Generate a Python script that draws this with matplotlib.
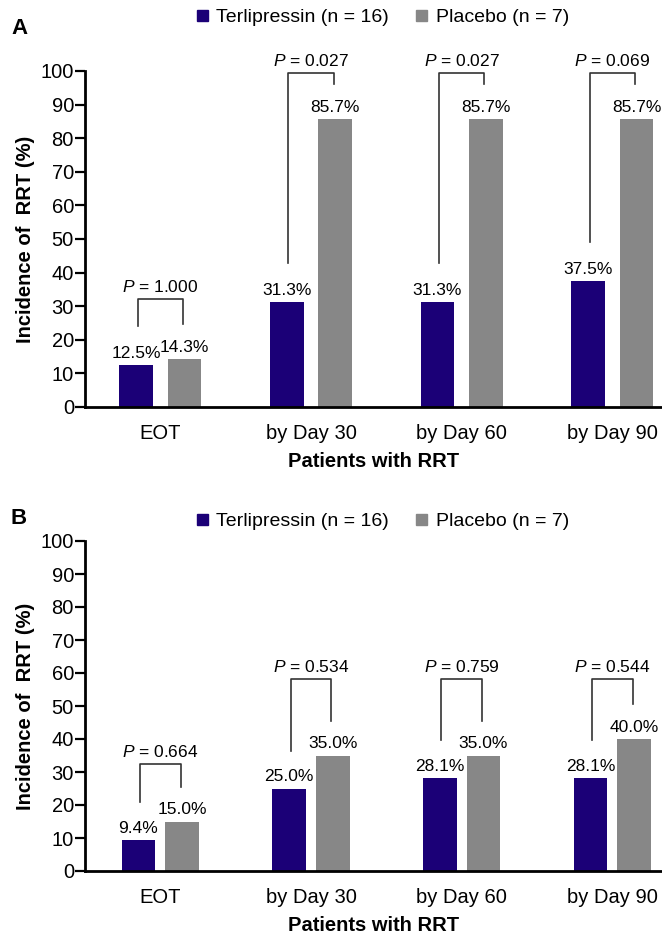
import numpy as np
import matplotlib
matplotlib.use("Agg")
import matplotlib.pyplot as plt
from matplotlib.patches import Patch

plt.rcParams["font.family"] = ["Liberation Sans", "DejaVu Sans"]
plt.rcParams["mathtext.fontset"] = "custom"
plt.rcParams["mathtext.rm"] = "Liberation Sans"
plt.rcParams["mathtext.it"] = "Liberation Sans:italic"

# Data
categories = ["EOT", "by Day 30", "by Day 60", "by Day 90"]
legend_labels = ["Terlipressin (n = 16)", "Placebo (n = 7)"]

terli_a = [12.5, 31.3, 31.3, 37.5]
placebo_a = [14.3, 85.7, 85.7, 85.7]
pvals_a = ["1.000", "0.027", "0.027", "0.069"]

terli_b = [9.4, 25.0, 28.1, 28.1]
placebo_b = [15.0, 35.0, 35.0, 40.0]
pvals_b = ["0.664", "0.534", "0.759", "0.544"]

# bracket heights (annotation layout)
bracket_top_a = [32.1, 99.4, 99.4, 99.4]
bracket_top_b = [32.4, 58.2, 58.2, 58.2]

NAVY = "#1b0077"
GREY = "#878787"
LINE = "#333333"

fig = plt.figure(figsize=(6.62, 9.35), dpi=100)


def draw_panel(ax, terli, placebo, pvals, tops, half):
    x = np.arange(len(categories))
    width = 0.224
    b1 = ax.bar(x - half, terli, width, color=NAVY)
    b2 = ax.bar(x + half, placebo, width, color=GREY)
    ax.bar_label(b1, fmt="%.1f%%", padding=3, fontsize=12.5)
    ax.bar_label(b2, fmt="%.1f%%", padding=3, fontsize=12.5)

    for i in range(len(categories)):
        xl = x[i] - half + 0.01
        xr = x[i] + half - 0.01
        top = tops[i]
        ax.plot([xl, xl, xr, xr], [terli[i] + 11.5, top, top, placebo[i] + 10.5],
                color=LINE, lw=1.2, clip_on=False)
        ax.annotate(f"$\\it{{P}}$ = {pvals[i]}", (x[i], top), xytext=(0, 3),
                    textcoords="offset points", ha="center", va="bottom",
                    fontsize=12.5)

    ax.set_xlim(-0.5, 3.33)
    ax.set_ylim(0, 100)
    ax.set_yticks(range(0, 101, 10))
    ax.set_xticks(x)
    ax.set_xticklabels(categories, fontsize=14.5)
    ax.tick_params(axis="y", labelsize=14.5, length=7, width=1.6, pad=1)
    ax.tick_params(axis="x", length=0, pad=12)
    for s in ["top", "right"]:
        ax.spines[s].set_visible(False)
    for s in ["left", "bottom"]:
        ax.spines[s].set_linewidth(2)
    ax.set_ylabel("Incidence of  RRT (%)", fontsize=14.5, fontweight="bold", labelpad=4)
    ax.set_xlabel("Patients with RRT", fontsize=14.5, fontweight="bold", labelpad=7)


ax_a = fig.add_axes([85 / 662, 1 - 407 / 935, 577 / 662, 336 / 935])
ax_b = fig.add_axes([85 / 662, 1 - 871 / 935, 577 / 662, 330 / 935])

draw_panel(ax_a, terli_a, placebo_a, pvals_a, bracket_top_a, 0.161)
draw_panel(ax_b, terli_b, placebo_b, pvals_b, bracket_top_b, 0.145)

handles = [Patch(color=NAVY), Patch(color=GREY)]
for ypix in [18, 522]:
    fig.legend(handles, legend_labels, loc="center", ncol=2, frameon=False,
               bbox_to_anchor=(383 / 662, 1 - ypix / 935), fontsize=14,
               handlelength=0.55, handleheight=0.55, handletextpad=0.45,
               columnspacing=1.4, borderaxespad=0)

fig.text(11 / 662, 1 - 28 / 935, "A", fontsize=16, fontweight="bold", va="center")
fig.text(11 / 662, 1 - 518 / 935, "B", fontsize=16, fontweight="bold", va="center")

fig.savefig("out.png", dpi=100)
